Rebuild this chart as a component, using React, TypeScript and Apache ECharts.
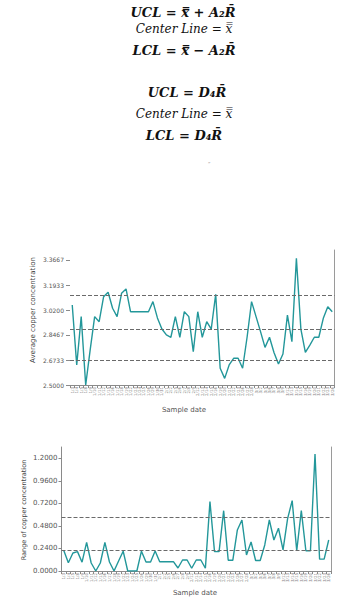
import React, { useEffect, useRef } from "react";
import * as echarts from "echarts";

const sampleDates = [
  "1/3", "1/4", "1/5", "1/8", "1/9", "1/10", "1/11", "1/12", "1/15", "1/16",
  "1/17", "1/18", "1/19", "1/22", "1/23", "1/24", "1/25", "1/26", "1/29", "1/30",
  "1/31", "2/1", "2/2", "2/5", "2/6", "2/7", "2/8", "2/9", "2/12", "2/13",
  "2/14", "2/15", "2/16", "2/19", "2/20", "2/21", "2/22", "2/23", "2/26", "2/27",
  "2/28", "3/1", "3/2", "3/5", "3/6", "3/7", "3/8", "3/9", "3/12", "3/13",
  "3/14", "3/15", "3/16", "3/19", "3/20", "3/21", "3/22", "3/23", "3/26",
];

const xbarValues = [
  3.055, 2.639, 2.974, 2.5, 2.743, 2.974, 2.939, 3.112, 3.143, 3.032,
  2.974, 3.136, 3.166, 3.008, 3.008, 3.008, 3.008, 3.008, 3.078, 2.965,
  2.888, 2.847, 2.831, 2.974, 2.831, 3.008, 2.974, 2.731, 3.008, 2.831,
  2.939, 2.888, 3.129, 2.616, 2.546, 2.639, 2.685, 2.685, 2.616, 2.831,
  3.078, 2.974, 2.87, 2.761, 2.831, 2.725, 2.646, 2.715, 2.985, 2.8,
  3.378, 2.888, 2.727, 2.777, 2.831, 2.831, 2.962, 3.043, 3.008,
];

const rangeValues = [
  0.218, 0.088, 0.192, 0.206, 0.094, 0.304, 0.085, 0.0, 0.085, 0.304,
  0.096, 0.0, 0.107, 0.211, 0.0, 0.0, 0.0, 0.211, 0.096, 0.096,
  0.213, 0.099, 0.099, 0.099, 0.099, 0.032, 0.117, 0.117, 0.029, 0.117,
  0.117, 0.029, 0.738, 0.206, 0.206, 0.642, 0.114, 0.114, 0.437, 0.543,
  0.17, 0.309, 0.112, 0.112, 0.277, 0.543, 0.33, 0.455, 0.224, 0.557,
  0.749, 0.216, 0.642, 0.216, 0.216, 1.246, 0.126, 0.126, 0.33,
];

const xbarLimits = [3.117, 2.888, 2.665]; // UCL, center, LCL
const rangeLimits = [0.572, 0.224]; // UCL, center

const xbarTicks = [2.5, 2.6733, 2.8467, 3.02, 3.1933, 3.3667];
const rangeTicks = [0, 0.24, 0.48, 0.72, 0.96, 1.2];

const formulaLines = [
  "UCL = x\u033F + A\u2082R\u0304",
  "Center Line = x\u033F",
  "LCL = x\u033F \u2212 A\u2082R\u0304",
  "UCL = D\u2084R\u0304",
  "Center Line = x\u033F",
  "LCL = D\u2084R\u0304",
];

const xbarYName = "Average copper concentration";
const rangeYName = "Range of copper concentration";
const xName = "Sample date";

const TEAL = "#23979a";
const AXIS = "#8a8a8a";
const LABEL = "#555";

export default function App() {
  const ref = useRef<HTMLDivElement>(null);

  useEffect(() => {
    if (!ref.current) return;
    const chart = echarts.init(ref.current, null, { renderer: "svg" });

    const formulaPos = [
      { x: 183, y: 12, font: 'italic bold 13px "DejaVu Serif"' },
      { x: 184, y: 29, font: 'italic 12px "DejaVu Serif"' },
      { x: 184, y: 50, font: 'italic bold 13px "DejaVu Serif"' },
      { x: 187, y: 92, font: 'italic bold 13px "DejaVu Serif"' },
      { x: 184, y: 114, font: 'italic 12px "DejaVu Serif"' },
      { x: 184, y: 135, font: 'italic bold 13px "DejaVu Serif"' },
    ];

    const graphics: any[] = formulaLines.map((t, i) => ({
      type: "text",
      x: formulaPos[i].x,
      y: formulaPos[i].y,
      silent: true,
      style: {
        text: t,
        align: "center",
        verticalAlign: "middle",
        font: formulaPos[i].font,
        fill: "#111",
      },
    }));

    graphics.push(
      {
        type: "text",
        x: 209,
        y: 164,
        silent: true,
        style: { text: "\u02DD", align: "center", verticalAlign: "middle", font: '6px "DejaVu Sans"', fill: "#777" },
      },
      {
        type: "text",
        x: 33,
        y: 310,
        rotation: Math.PI / 2,
        silent: true,
        style: { text: xbarYName, align: "center", verticalAlign: "middle", font: '7px "DejaVu Sans"', fill: "#444" },
      },
      {
        type: "text",
        x: 24,
        y: 510,
        rotation: Math.PI / 2,
        silent: true,
        style: { text: rangeYName, align: "center", verticalAlign: "middle", font: '6.5px "DejaVu Sans"', fill: "#444" },
      },
      {
        type: "text",
        x: 184,
        y: 410,
        silent: true,
        style: { text: xName, align: "center", verticalAlign: "middle", font: '7px "DejaVu Sans"', fill: "#555" },
      },
      {
        type: "text",
        x: 195,
        y: 593,
        silent: true,
        style: { text: xName, align: "center", verticalAlign: "middle", font: '7px "DejaVu Sans"', fill: "#555" },
      }
    );

    const catAxis = (gridIndex: number) => ({
      type: "category",
      gridIndex,
      data: sampleDates,
      boundaryGap: true,
      axisLine: { lineStyle: { color: AXIS, width: 1 } },
      axisTick: { show: true, interval: 0, length: 3, lineStyle: { color: AXIS } },
      axisLabel: { interval: 0, rotate: 90, fontSize: 4, color: "#777", margin: 2, fontFamily: "DejaVu Sans" },
      splitLine: { show: false },
    });

    const borderAxis = (gridIndex: number) => ({
      type: "value",
      gridIndex,
      position: "right",
      min: 0,
      max: 1,
      axisLine: { show: true, lineStyle: { color: "#9a9a9a", width: 1 } },
      axisTick: { show: false },
      axisLabel: { show: false },
      splitLine: { show: false },
    });

    const dashed = { type: [4, 2], color: "#6a6a6a", width: 1 };

    const option: any = {
      animation: false,
      backgroundColor: "#ffffff",
      grid: [
        { left: 70, right: 17.5, top: 250, bottom: 217 },
        { left: 61.5, right: 21, top: 447, bottom: 31 },
      ],
      xAxis: [catAxis(0), catAxis(1)],
      yAxis: [
        {
          type: "value",
          gridIndex: 0,
          min: 2.5,
          max: 3.436,
          axisLine: { show: false },
          axisTick: { show: true, length: 4, customValues: xbarTicks, lineStyle: { color: AXIS } },
          axisLabel: {
            customValues: xbarTicks,
            formatter: (v: number) => v.toFixed(4),
            fontSize: 6,
            color: LABEL,
            margin: 6,
            fontFamily: "DejaVu Sans",
          },
          splitLine: { show: false },
        },
        borderAxis(0),
        {
          type: "value",
          gridIndex: 1,
          min: 0,
          max: 1.32,
          axisLine: { show: true, lineStyle: { color: AXIS, width: 1 } },
          axisTick: { show: true, length: 3, customValues: rangeTicks, lineStyle: { color: AXIS } },
          axisLabel: {
            customValues: rangeTicks,
            formatter: (v: number) => v.toFixed(4),
            fontSize: 7,
            color: LABEL,
            margin: 4,
            fontFamily: "DejaVu Sans",
          },
          splitLine: { show: false },
        },
        borderAxis(1),
      ],
      series: [
        {
          type: "line",
          xAxisIndex: 0,
          yAxisIndex: 0,
          data: xbarValues,
          symbol: "none",
          lineStyle: { color: TEAL, width: 1.4 },
          markLine: {
            silent: true,
            symbol: "none",
            label: { show: false },
            lineStyle: dashed,
            data: xbarLimits.map((v) => ({ yAxis: v })),
          },
        },
        {
          type: "line",
          xAxisIndex: 1,
          yAxisIndex: 2,
          data: rangeValues,
          symbol: "none",
          lineStyle: { color: TEAL, width: 1.4 },
          markLine: {
            silent: true,
            symbol: "none",
            label: { show: false },
            lineStyle: dashed,
            data: rangeLimits.map((v) => ({ yAxis: v })),
          },
        },
      ],
      graphic: graphics,
    };

    chart.setOption(option);
    return () => chart.dispose();
  }, []);

  return (
    <div
      ref={ref}
      style={{ position: "fixed", left: 0, top: 0, width: 352, height: 602, background: "#fff" }}
    />
  );
}
